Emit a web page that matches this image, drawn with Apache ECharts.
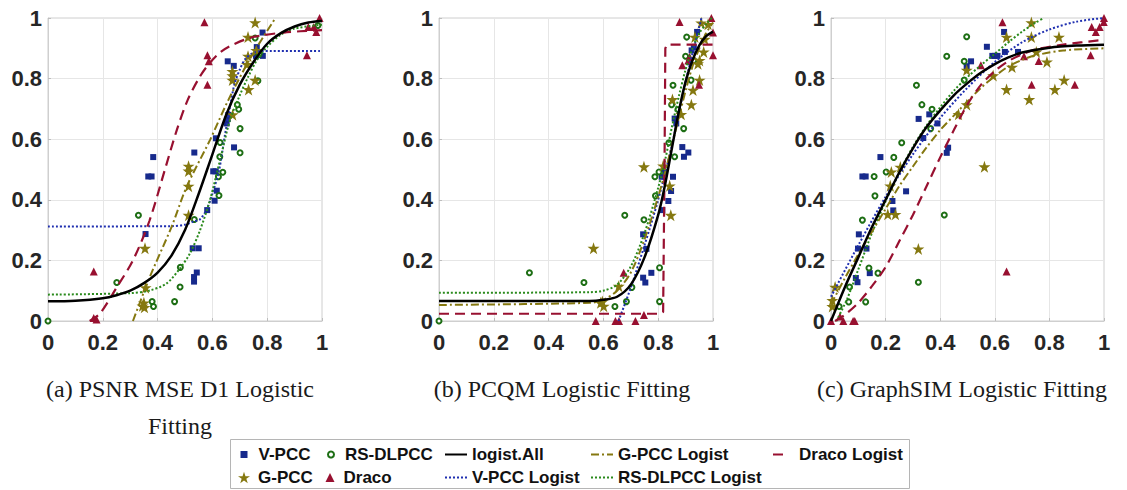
<!DOCTYPE html>
<html>
<head>
<meta charset="utf-8">
<script src="https://cdn.jsdelivr.net/npm/echarts@6/dist/echarts.min.js"></script>
<style>html,body{margin:0;padding:0;background:#fff;}#c{width:1127px;height:490px;}</style>
</head>
<body>
<div id="c"></div>
<script>
// ---------- tick labels & captions ----------
const xTicks = [0, 0.2, 0.4, 0.6, 0.8, 1];
const captions = [["(a) PSNR MSE D1 Logistic", "Fitting"], ["(b) PCQM Logistic Fitting"], ["(c) GraphSIM Logistic Fitting"]];
const seriesNames = ["V-PCC", "RS-DLPCC", "G-PCC", "Draco", "logist.All", "V-PCC Logist", "RS-DLPCC Logist", "G-PCC Logist", "Draco Logist"];

// ---------- panel (a) PSNR MSE D1 ----------
const aVpcc = [[.384,.541],[.366,.477],[.378,.477],[.356,.287],[.534,.556],[.528,.24],[.55,.24],[.543,.16],[.533,.145],[.533,.13],[.603,.494],[.612,.494],[.616,.43],[.608,.397],[.581,.366],[.613,.603],[.679,.573],[.652,.652],[.656,.667],[.658,.68],[.656,.857],[.678,.842],[.762,.904],[.783,.952],[.784,.875],[.759,.875],[.771,.885]];
const aRsdlpcc = [[0,0],[.33,.349],[.251,.127],[.38,.064],[.385,.048],[.462,.064],[.482,.112],[.483,.177],[.534,.335],[.624,.414],[.622,.476],[.638,.491],[.627,.542],[.628,.589],[.701,.635],[.701,.555],[.696,.699],[.691,.714],[.766,.793],[.756,.934],[.77,.88],[.985,.975]];
const aGpcc = [[.354,.24],[.35,.06],[.345,.05],[.352,.045],[.356,.11],[.513,.511],[.513,.495],[.513,.445],[.513,.349],[.673,.824],[.673,.795],[.673,.81],[.674,.681],[.732,.764],[.73,.874],[.73,.937],[.756,.985],[.756,.795],[.76,.893],[.726,.847]];
const aDraco = [[.167,.163],[.167,.01],[.177,.005],[.571,.986],[.582,.877],[.587,.857],[.582,.78],[.945,.877],[.991,1.0],[.979,.954],[.95,.97],[.97,.97]];
const aAllFit = [[0,.065],[.1,.067],[.2,.075],[.25,.085],[.3,.1],[.35,.125],[.4,.16],[.45,.215],[.5,.3],[.55,.42],[.6,.55],[.65,.68],[.7,.78],[.75,.855],[.8,.915],[.85,.95],[.9,.972],[.95,.985],[1,.99]];
const aVpccFit = [[0,.312],[.45,.313],[.5,.318],[.53,.328],[.555,.336],[.58,.37],[.6,.42],[.625,.5],[.645,.61],[.665,.71],[.68,.78],[.7,.83],[.72,.865],[.75,.885],[.78,.891],[1,.891]];
const aRsdlpccFit = [[0,.087],[.3,.092],[.372,.101],[.433,.124],[.482,.174],[.518,.223],[.555,.3],[.591,.399],[.628,.531],[.664,.663],[.7,.745],[.73,.805],[.762,.86],[.8,.905],[.85,.945],[.9,.965],[1,.978]];
const aGpccFit = [[.31,0],[.372,.146],[.451,.311],[.506,.443],[.591,.597],[.658,.729],[.74,.87],[.83,1.0]];
const aDracoFit = [[.152,0],[.19,.025],[.25,.11],[.31,.2],[.37,.33],[.43,.51],[.47,.63],[.51,.73],[.55,.8],[.58,.84],[.62,.88],[.66,.905],[.74,.935],[.86,.952],[1,.96]];

// ---------- panel (b) PCQM ----------
const bVpcc = [[.745,.286],[.757,.238],[.745,.143],[.753,.127],[.775,.159],[.815,.366],[.813,.476],[.821,.492],[.837,.396],[.847,.429],[.854,.476],[.86,.668],[.866,.652],[.888,.574],[.894,.542],[.91,.556],[.922,.893],[.93,.904],[.942,.954],[.92,.855]];
const bRsdlpcc = [[0,0],[.33,.159],[.529,.127],[.642,.048],[.678,.349],[.684,.064],[.704,.111],[.748,.334],[.788,.476],[.79,.413],[.803,.492],[.805,.176],[.805,.064],[.854,.778],[.849,.714],[.839,.588],[.86,.542],[.872,.698],[.893,.635],[.904,.937],[.9,.874],[.92,.795],[.93,.86]];
const bGpcc = [[.564,.24],[.748,.509],[.596,.064],[.601,.049],[.59,.06],[.656,.115],[.818,.512],[.842,.446],[.846,.349],[.852,.731],[.884,.682],[.921,.714],[.927,.762],[.951,.795],[.945,.849],[.951,.86],[.966,.888],[.934,.937],[.957,.984],[.982,.979],[.97,.93]];
const bDraco = [[.572,0],[.644,0],[.657,0],[.717,0],[.674,.159],[.748,.02],[.878,.987],[.888,.844],[.915,.871],[.949,.78],[.994,1.0],[1,.952],[1,.877],[.91,.86]];
const bAllFit = [[0,.066],[.55,.066],[.6,.07],[.65,.08],[.7,.12],[.75,.21],[.8,.35],[.825,.45],[.85,.57],[.875,.69],[.9,.79],[.925,.86],[.95,.91],[.975,.94],[1,.955]];
const bVpccFit = [[.655,0],[.7,.11],[.75,.25],[.8,.4],[.85,.58],[.9,.79],[.93,.9],[.958,1.0]];
const bRsdlpccFit = [[0,.093],[.55,.095],[.6,.1],[.65,.12],[.7,.18],[.75,.29],[.8,.44],[.825,.53],[.85,.64],[.875,.74],[.9,.83],[.925,.9],[.95,.95],[.975,.98],[.995,1.0]];
const bGpccFit = [[0,.053],[.55,.06],[.6,.07],[.65,.1],[.7,.16],[.75,.27],[.8,.41],[.825,.49],[.85,.58],[.875,.67],[.9,.76],[.925,.84],[.95,.9],[.975,.95],[1,.985]];
const bDracoFit = [[0,.024],[.81,.024],[.818,.03],[.823,.5],[.826,.9],[.832,.912],[1,.912]];

// ---------- panel (c) GraphSIM ----------
const cVpcc = [[.181,.541],[.115,.477],[.127,.477],[.102,.286],[.099,.239],[.13,.239],[.091,.142],[.097,.128],[.142,.158],[.225,.396],[.228,.365],[.275,.428],[.321,.667],[.338,.604],[.36,.682],[.39,.652],[.424,.555],[.429,.572],[.497,.841],[.513,.857],[.571,.905],[.591,.875],[.6,.875],[.61,.875],[.634,.954],[.637,.888],[.685,.888]];
const cRsdlpcc = [[.158,.477],[.161,.413],[.115,.333],[.139,.175],[.172,.158],[.127,.063],[.065,.063],[.068,.112],[.03,.048],[.202,.492],[.23,.54],[.259,.588],[.313,.778],[.333,.714],[.37,.699],[.365,.635],[.415,.35],[.32,.128],[.424,.874],[.497,.938],[.488,.857],[.488,.795]];
const cGpcc = [[.015,.112],[.005,.068],[.005,.048],[.221,.492],[.217,.446],[.208,.352],[.236,.352],[.254,.508],[.32,.238],[.467,.682],[.497,.714],[.497,.828],[.562,.509],[.594,.81],[.643,.764],[.643,.937],[.663,.838],[.726,.731],[.734,.937],[.734,.985],[.752,.888],[.791,.855],[.82,.764],[.835,.937],[.854,.795]];
const cDraco = [[0,0],[.033,.015],[.045,0],[.081,0],[.087,0],[.549,.844],[.628,.986],[.643,.163],[.707,.874],[.735,.78],[.761,.858],[.893,.78],[.951,.877],[.955,.97],[.97,.954],[.984,.97],[.999,.987],[1,1.0]];
const cAllFit = [[0,0],[.05,.11],[.1,.21],[.15,.31],[.2,.4],[.25,.49],[.3,.57],[.35,.64],[.4,.695],[.45,.745],[.5,.785],[.55,.82],[.6,.848],[.65,.87],[.7,.886],[.8,.902],[.9,.909],[1,.912]];
const cVpccFit = [[0,.08],[.1,.25],[.2,.41],[.3,.55],[.4,.67],[.5,.77],[.6,.855],[.7,.92],[.8,.962],[.9,.988],[1,1.0]];
const cRsdlpccFit = [[.02,0],[.06,.075],[.1,.17],[.15,.29],[.2,.395],[.25,.49],[.3,.575],[.35,.645],[.4,.705],[.45,.76],[.5,.805],[.55,.845],[.6,.882],[.65,.92],[.7,.955],[.75,.985],[.78,1.0]];
const cGpccFit = [[0,.055],[.05,.14],[.1,.22],[.15,.295],[.2,.37],[.25,.445],[.3,.51],[.35,.573],[.4,.63],[.45,.678],[.5,.725],[.55,.77],[.6,.808],[.65,.84],[.7,.862],[.75,.877],[.85,.893],[1,.9]];
const cDracoFit = [[.015,0],[.05,.02],[.1,.06],[.15,.115],[.2,.178],[.25,.263],[.3,.35],[.35,.445],[.4,.54],[.45,.63],[.5,.715],[.55,.78],[.6,.825],[.65,.858],[.7,.88],[.75,.896],[.85,.912],[1,.928]];

// ---------- build ----------
const SANS = '"Liberation Sans", Arial, sans-serif';
const SERIF = '"Liberation Serif", "Times New Roman", serif';
const C = {blue:'#172a8c', green:'#1d6e14', olive:'#857810', red:'#981030'};
const STAR = 'path://M50,0 L61.8,35.5 L99,35.5 L69,57.5 L80.5,93 L50,71 L19.5,93 L31,57.5 L1,35.5 L38.2,35.5 Z';

const panels = [
  {pts:[aVpcc,aRsdlpcc,aGpcc,aDraco], fits:[aAllFit,aVpccFit,aRsdlpccFit,aGpccFit,aDracoFit], stepDraco:false},
  {pts:[bVpcc,bRsdlpcc,bGpcc,bDraco], fits:[bAllFit,bVpccFit,bRsdlpccFit,bGpccFit,bDracoFit], stepDraco:true},
  {pts:[cVpcc,cRsdlpcc,cGpcc,cDraco], fits:[cAllFit,cVpccFit,cRsdlpccFit,cGpccFit,cDracoFit], stepDraco:false}
];
const gridLeft = [48, 439, 831];

const scatterStyles = [
  {symbol:'rect', symbolSize:6, itemStyle:{color:C.blue, opacity:1}},
  {symbol:'emptyCircle', symbolSize:5, itemStyle:{color:C.green, borderColor:C.green, borderWidth:1.7, opacity:1}},
  {symbol:STAR, symbolSize:12, itemStyle:{color:C.olive, opacity:1}},
  {symbol:'triangle', symbolSize:8, itemStyle:{color:C.red, opacity:1}}
];
const lineStyles = [
  {color:'#000000', width:2.5, type:'solid'},
  {color:'#1f2fb0', width:2, type:[2,2]},
  {color:'#2a8a1c', width:2, type:[2,2]},
  {color:C.olive, width:2, type:[8,3,2,3]},
  {color:C.red, width:2.2, type:[10,6]}
];

const grids = [], xAxes = [], yAxes = [], series = [];
panels.forEach((p, i) => {
  grids.push({left:gridLeft[i], top:18, width:(i===2?273:274), height:303, show:true, borderColor:'#cfcfcf', borderWidth:1, outerBoundsMode:'none', containLabel:false});
  const lbl = {fontFamily:SANS, fontWeight:'bold', fontSize:22, color:'#262626'};
  const common = {gridIndex:i, type:'value', min:0, max:1, interval:0.2,
    axisLine:{show:true, lineStyle:{color:'#cfcfcf'}}, axisTick:{show:true, inside:true, length:3, lineStyle:{color:'#bdbdbd'}},
    splitLine:{show:true, lineStyle:{color:'#e6e6e6', width:1}}};
  xAxes.push(Object.assign({axisLabel:Object.assign({margin:10}, lbl)}, common));
  yAxes.push(Object.assign({axisLabel:Object.assign({margin:6}, lbl)}, common));
  p.pts.forEach((d, k) => {
    series.push(Object.assign({name:seriesNames[k], type:'scatter', xAxisIndex:i, yAxisIndex:i, data:d, z:2, clip:false}, scatterStyles[k]));
  });
  p.fits.forEach((d, k) => {
    const isStep = (k===4 && p.stepDraco);
    series.push({name:seriesNames[4+k], type:'line', xAxisIndex:i, yAxisIndex:i, data:d, z:3 + (k===0?1:0),
      symbol:'none', showSymbol:false, smooth:isStep?false:0.3, clip:true,
      lineStyle:lineStyles[k], itemStyle:{color:lineStyles[k].color}, emphasis:{disabled:true}});
  });
});

// legends (one per item to match irregular layout)
const legTxt = {fontFamily:SANS, fontWeight:'bold', fontSize:17, color:'#111111'};
function legPt(name, cx, top, s, gap) {
  return {data:[name], left:cx - s/2, top:top, itemWidth:s, itemHeight:s, padding:0, itemGap:0, selectedMode:false,
    itemStyle:{opacity:1}, textStyle:Object.assign({padding:[0,0,0,gap]}, legTxt)};
}
function legLn(name, left, top, w, gap) {
  return {data:[name], left:left, top:top, itemWidth:w, itemHeight:10, padding:0, itemGap:0, selectedMode:false,
    textStyle:Object.assign({padding:[0,0,0,gap]}, legTxt), itemStyle:{opacity:0}};
}
const R1 = 446, R2 = 469;
const legends = [
  legPt('V-PCC', 244, R1, 7, 6),
  legPt('RS-DLPCC', 330, R1, 6, 6),
  legLn('logist.All', 444, R1, 22, 0),
  legLn('G-PCC Logist', 590, R1, 22, 0),
  legLn('Draco Logist', 772, R1, 11, 10),
  legPt('G-PCC', 244, R2, 12, 3),
  legPt('Draco', 330, R2, 9, 4),
  legLn('V-PCC Logist', 444, R2, 22, 0),
  legLn('RS-DLPCC Logist', 590, R2, 22, 0)
];

const capCenters = [180, 562, 962];
const graphic = [{type:'rect', shape:{x:230.5, y:439.5, width:679, height:49}, style:{fill:'none', stroke:'#b5b5b5', lineWidth:1}, z:-1}];
captions.forEach((lines, i) => {
  lines.forEach((t, j) => {
    graphic.push({type:'text', x:capCenters[i], y:389 + j*37, style:{text:t, font:'24px ' + SERIF, fill:'#1a1a1a', align:'center', verticalAlign:'middle'}});
  });
});

const chart = echarts.init(document.getElementById('c'), null, {renderer:'svg'});
chart.setOption({
  animation:false,
  backgroundColor:'#ffffff',
  grid:grids, xAxis:xAxes, yAxis:yAxes, series:series,
  legend:legends, graphic:graphic
});
</script>
</body>
</html>
